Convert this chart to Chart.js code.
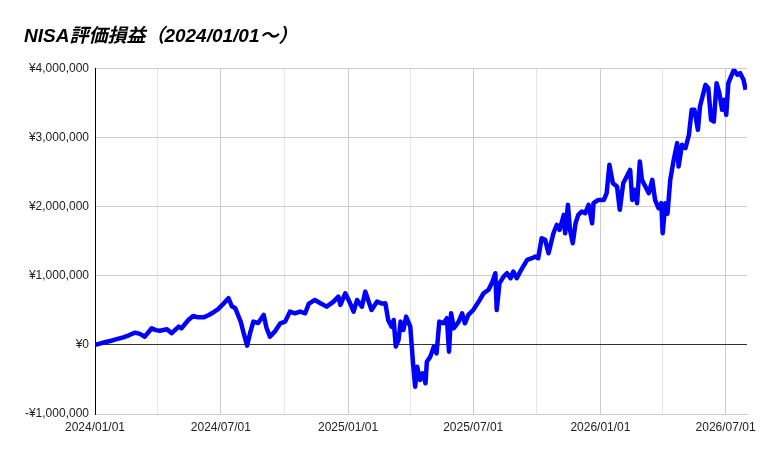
<!DOCTYPE html>
<html>
<head>
<meta charset="utf-8">
<script src="https://cdn.jsdelivr.net/npm/chart.js@4.4.1/dist/chart.umd.min.js"></script>
<style>
  html, body { margin: 0; padding: 0; background: #ffffff; }
  #wrap { width: 769px; height: 457px; position: relative; }
</style>
</head>
<body>
<div id="wrap"><canvas id="c"></canvas></div>
<script>
// ---- data ----
const chartTitle = 'NISA評価損益（2024/01/01～）';
const startDate = '2024-01-01';
const endDate = '2026-08-01';

// days elapsed since 2024-01-01
const days = [
  0, 7, 14, 22, 30, 41, 49, 58, 65, 72, 82, 88, 94, 104, 111, 121, 125, 135, 142, 149,
  157, 164, 171, 178, 186, 193, 198, 203, 207, 211, 215, 220, 224, 229, 236, 244, 248, 253, 260, 268,
  275, 282, 289, 297, 304, 309, 318, 326, 335, 345, 352, 355, 362, 369, 374, 379, 386, 391, 395, 400,
  408, 415, 420, 424, 429, 432, 435, 439, 442, 446, 450, 456, 460, 463, 466, 470, 474, 478, 480, 485,
  490, 494, 498, 504, 509, 512, 515, 519, 526, 531, 535, 540, 547, 555, 562, 569, 575, 579, 581, 585,
  591, 596, 601, 605, 610, 615, 625, 632, 637, 641, 646, 651, 656, 663, 668, 672, 678, 680, 684, 687,
  691, 695, 699, 704, 709, 714, 719, 721, 728, 736, 740, 744, 749, 755, 759, 764, 769, 774, 777, 781,
  784, 788, 791, 796, 801, 806, 810, 815, 819, 821, 825, 828, 832, 837, 842, 844, 849, 854, 859, 863,
  867, 872, 875, 883, 887, 891, 895, 899, 903, 907, 910, 913, 916, 920, 924, 929, 933, 938, 941
];

// NISA unrealised gain/loss (yen)
const gainLoss = [
  0, 20000, 40000, 58000, 80000, 111000, 140000, 178000, 160000, 120000, 242000, 215000, 207000, 227000, 170000, 265000, 240000, 362000, 420000, 400000,
  400000, 430000, 470000, 520000, 600000, 677000, 560000, 531000, 430000, 330000, 170000, -10000, 160000, 338000, 318000, 435000, 250000, 120000, 193000, 314000,
  338000, 483000, 459000, 483000, 459000, 594000, 652000, 604000, 555000, 628000, 700000, 580000, 749000, 604000, 483000, 652000, 555000, 773000, 652000, 507000,
  628000, 600000, 604000, 362000, 265000, 362000, -24000, 72000, 338000, 217000, 410000, 265000, -265000, -604000, -314000, -507000, -410000, -555000, -242000, -169000,
  -24000, -121000, 338000, 314000, 387000, -97000, 459000, 242000, 338000, 459000, 314000, 435000, 507000, 628000, 749000, 797000, 918000, 1039000, 507000, 894000,
  990000, 1039000, 966000, 1062000, 966000, 1062000, 1232000, 1256000, 1280000, 1256000, 1546000, 1522000, 1329000, 1618000, 1739000, 1667000, 1884000, 1618000, 2029000, 1667000,
  1474000, 1763000, 1884000, 1932000, 1908000, 2029000, 1763000, 2053000, 2101000, 2101000, 2198000, 2609000, 2343000, 2295000, 1957000, 2343000, 2440000, 2536000, 2101000, 2246000,
  2053000, 2657000, 2391000, 2295000, 2198000, 2391000, 2101000, 1980000, 2053000, 1618000, 2053000, 1900000, 2391000, 2681000, 2923000, 2584000, 2899000, 2850000, 3043000, 3406000,
  3406000, 3116000, 3454000, 3768000, 3720000, 3261000, 3237000, 3792000, 3647000, 3406000, 3551000, 3333000, 3792000, 3889000, 3986000, 3913000, 3937000, 3841000, 3696000
];

// x-axis gridline dates (quarters) and which of them carry a label
const gridDates = ['2024-01-01', '2024-04-01', '2024-07-01', '2024-10-01', '2025-01-01', '2025-04-01',
                   '2025-07-01', '2025-10-01', '2026-01-01', '2026-04-01', '2026-07-01'];
const labelledDates = ['2024-01-01', '2024-07-01', '2025-01-01', '2025-07-01', '2026-01-01', '2026-07-01'];

// y-axis ticks
const yMin = -1000000, yMax = 4000000, yStep = 1000000;

// ---- helpers ----
const DAY = 86400000;
function dayOf(s) {
  const p = s.split('-').map(Number);
  return Math.round((Date.UTC(p[0], p[1] - 1, p[2]) - Date.UTC(2024, 0, 1)) / DAY);
}
const gridDays = gridDates.map(dayOf);
const labelMap = {};
labelledDates.forEach(d => { labelMap[dayOf(d)] = d.replace(/-/g, '/'); });

function yen(v) {
  const s = '¥' + Math.abs(v).toLocaleString('en-US');
  return v < 0 ? '-' + s : s;
}

const points = days.map((d, i) => ({ x: d, y: gainLoss[i] }));

const FONT = "'Liberation Sans', Arial, 'Noto Sans CJK JP', sans-serif";

new Chart(document.getElementById('c'), {
  type: 'line',
  data: {
    datasets: [{
      data: points,
      borderColor: '#0000ff',
      backgroundColor: '#0000ff',
      borderWidth: 4.5,
      borderJoinStyle: 'round',
      pointRadius: 0,
      pointHoverRadius: 0,
      tension: 0,
      fill: false
    }]
  },
  options: {
    responsive: true,
    maintainAspectRatio: false,
    animation: false,
    events: [],
    layout: { padding: { left: 24, right: 22, top: 0, bottom: 23 } },
    plugins: {
      legend: { display: false },
      tooltip: { enabled: false },
      title: {
        display: true,
        text: chartTitle,
        align: 'start',
        color: '#000000',
        font: { family: FONT, size: 19, weight: 'bold', style: 'italic', lineHeight: 1.2 },
        padding: { top: 25, bottom: 21 }
      }
    },
    scales: {
      x: {
        type: 'linear',
        min: dayOf(startDate),
        max: dayOf(endDate),
        afterBuildTicks: (scale) => { scale.ticks = gridDays.map(v => ({ value: v })); },
        afterFit: (scale) => { scale.height = 20; scale.paddingLeft = 0; scale.paddingRight = 0; },
        ticks: {
          autoSkip: false,
          maxRotation: 0,
          minRotation: 0,
          padding: 6,
          color: '#222222',
          font: { family: FONT, size: 12 },
          callback: (v) => labelMap[v] || ''
        },
        grid: {
          drawTicks: false,
          color: (ctx) => {
            const v = ctx.tick ? ctx.tick.value : null;
            if (v === 0) return '#000000';
            return labelMap[v] ? '#cccccc' : '#e4e4e4';
          }
        },
        border: { display: true, color: '#cccccc' }
      },
      y: {
        min: yMin,
        max: yMax,
        afterFit: (scale) => { scale.width = 71; scale.paddingTop = 0; scale.paddingBottom = 0; },
        ticks: {
          stepSize: yStep,
          padding: 6,
          color: '#222222',
          font: { family: FONT, size: 12 },
          callback: (v) => yen(v)
        },
        grid: {
          drawTicks: false,
          color: (ctx) => (ctx.tick && ctx.tick.value === 0) ? '#333333' : '#cccccc'
        },
        border: { display: true, color: '#000000' }
      }
    }
  }
});
</script>
</body>
</html>
